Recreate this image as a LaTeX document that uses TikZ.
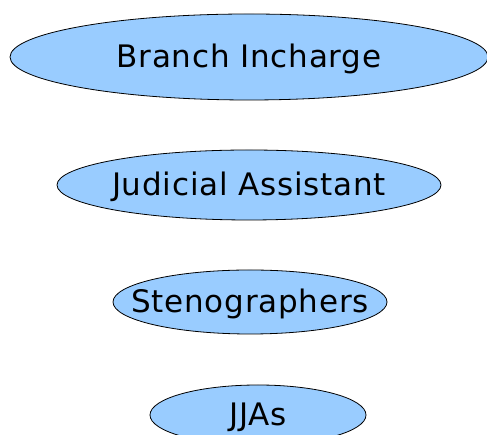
\documentclass[tikz,border=0pt]{standalone}
\usepackage{fontspec}
\setmainfont{DejaVu Sans}[LetterSpace=2.5]
\usetikzlibrary{shapes.geometric}
\definecolor{bubble}{HTML}{99CCFF}
\tikzset{
  role/.style={ellipse, draw=black, line width=0.8pt, fill=bubble, inner sep=0pt},
  rolelabel/.style={inner sep=0pt, yshift=-2pt, font=\fontsize{31}{36}\selectfont, text=black},
}
\begin{document}
\begin{tikzpicture}[x=1pt,y=1pt]
\useasboundingbox (0,0) rectangle (487,435);
\clip (0,0) rectangle (487,435);
\fill[white] (0,0) rectangle (487,435);
\node[role, minimum width=478pt, minimum height=86pt] (bi) at (249,378) {};
\node[rolelabel] (bit) at (bi) {Branch Incharge};
\node[role, minimum width=384pt, minimum height=70pt] (ja) at (249,250) {};
\node[rolelabel] (jat) at (ja) {Judicial Assistant};
\node[role, minimum width=274pt, minimum height=64pt] (st) at (250,133) {};
\node[rolelabel] (stt) at (st) {Stenographers};
\node[role, minimum width=216pt, minimum height=60pt] (jj) at (258,20) {};
\node[rolelabel] (jjt) at (jj) {JJAs};
\end{tikzpicture}
\end{document}
